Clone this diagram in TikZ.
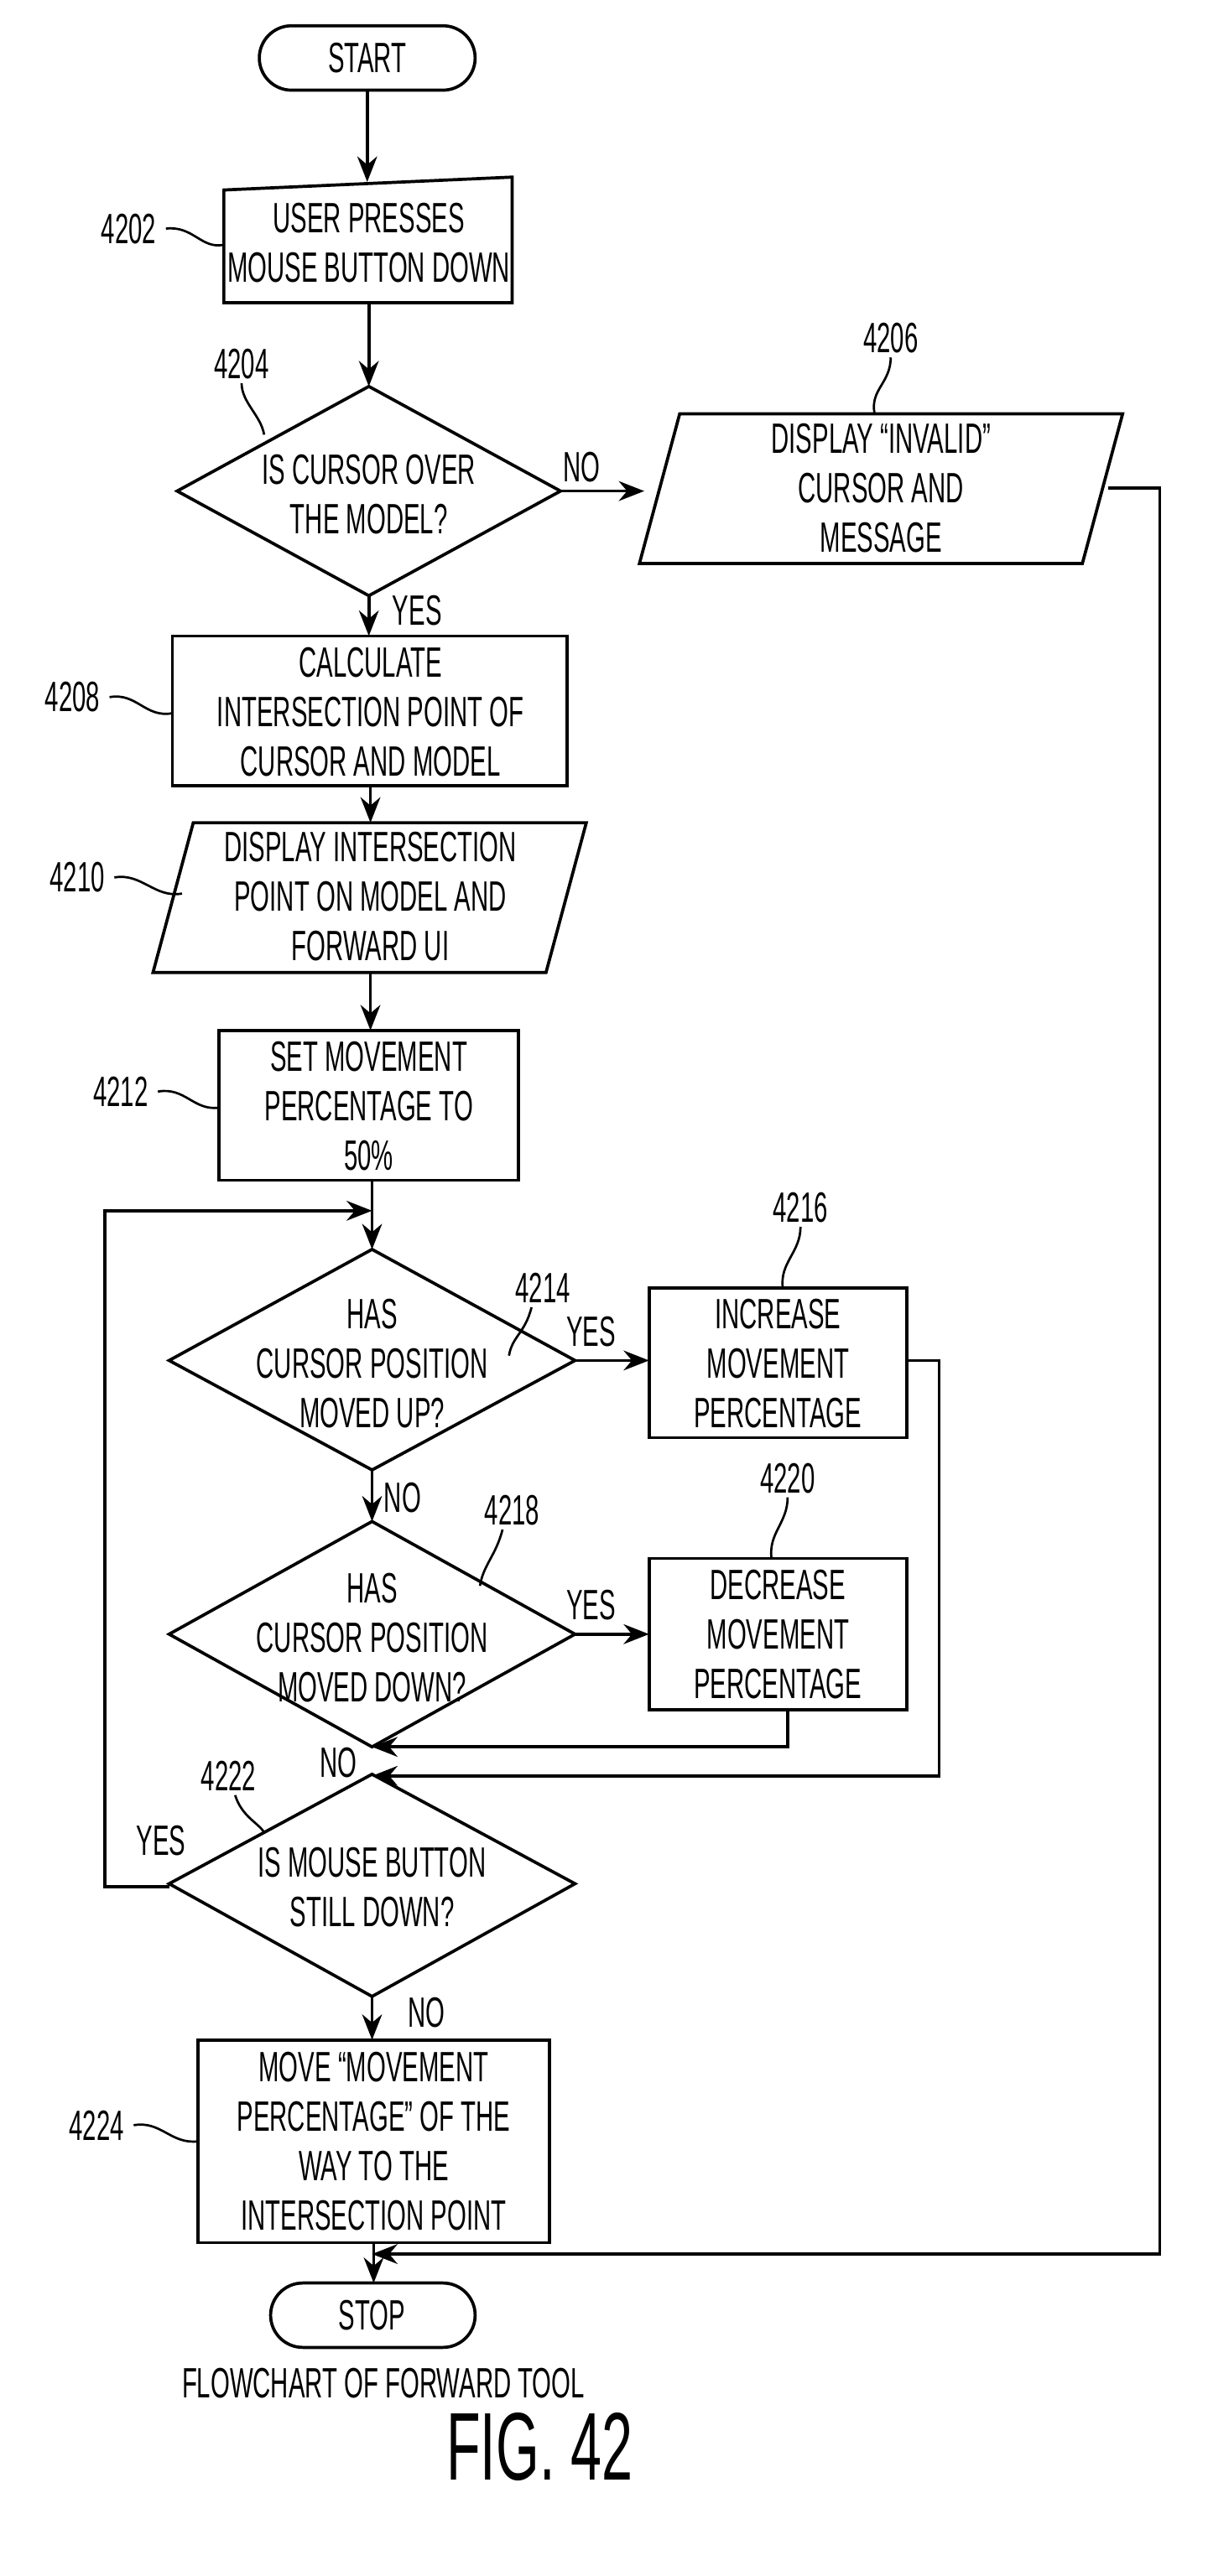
\documentclass[tikz,border=0pt]{standalone}
\usepackage{fontspec}
\setmainfont{Liberation Sans}[FakeStretch=0.58]
\usetikzlibrary{arrows.meta,shapes.geometric}
\begin{document}
\begin{tikzpicture}[x=0.02cm,y=-0.02cm,
 line width=1.1pt,
 txt/.style={align=center,font=\fontsize{15}{17.5}\selectfont},
 lab/.style={font=\fontsize{15}{17}\selectfont},
 arr/.style={-{Stealth[length=9pt,width=7pt]}},
 lead/.style={line width=0.8pt},
 stad/.style={rounded corners=0.4cm}]
\useasboundingbox (0,0) rectangle (750,1600);
% START
\draw[stad] (161,16) rectangle (295,56);
\node[txt] (start) at (228,36) {START};
% 4202
\draw (139,118) -- (318,110) -- (318,188) -- (139,188) -- cycle;
\node[txt] (b4202) at (229,151) {USER PRESSES\\MOUSE BUTTON DOWN};
\node[lab] (l4202) at (80,142) {4202};
\draw[lead] (103,142) .. controls (120,140) and (125,155) .. (139,152);
% 4204
\draw (229,240) -- (348,305) -- (229,370) -- (110,305) -- cycle;
\node[txt] (d4204) at (229,307) {IS CURSOR OVER\\THE MODEL?};
\node[lab] (l4204) at (150,226) {4204};
\draw[lead] (150,238) .. controls (150,250) and (162,258) .. (164,270);
% 4206
\draw (422,257) -- (697,257) -- (672,350) -- (397,350) -- cycle;
\node[txt] (b4206) at (547,303) {DISPLAY ``INVALID''\\CURSOR AND\\MESSAGE};
\node[lab] (l4206) at (553,210) {4206};
\draw[lead] (553,222) .. controls (553,238) and (540,242) .. (543,257);
\node[lab] at (361,290) {NO};
\node[lab] at (259,379) {YES};
% 4208
\draw (107,395) rectangle (352,488);
\node[txt] (b4208) at (230,442) {CALCULATE\\INTERSECTION POINT OF\\CURSOR AND MODEL};
\node[lab] (l4208) at (45,433) {4208};
\draw[lead] (68,433) .. controls (85,430) and (90,446) .. (107,443);
% 4210
\draw (120,511) -- (364,511) -- (339,604) -- (95,604) -- cycle;
\node[txt] (b4210) at (230,557) {DISPLAY INTERSECTION\\POINT ON MODEL AND\\FORWARD UI};
\node[lab] (l4210) at (48,545) {4210};
\draw[lead] (71,545) .. controls (88,542) and (96,558) .. (113,555);
% 4212
\draw (136,640) rectangle (322,733);
\node[txt] (b4212) at (229,687) {SET MOVEMENT\\PERCENTAGE TO\\50\%};
\node[lab] (l4212) at (75,678) {4212};
\draw[lead] (98,678) .. controls (115,675) and (120,690) .. (136,688);
% 4214
\draw (231,776) -- (357,845) -- (231,913) -- (105,845) -- cycle;
\node[txt] (d4214) at (231,847) {HAS\\CURSOR POSITION\\MOVED UP?};
\node[lab] (l4214) at (337,800) {4214};
\draw[lead] (330,812) .. controls (326,828) and (318,830) .. (316,842);
% 4216
\draw (403,800) rectangle (563,893);
\node[txt] (b4216) at (483,847) {INCREASE\\MOVEMENT\\PERCENTAGE};
\node[lab] (l4216) at (497,750) {4216};
\draw[lead] (497,762) .. controls (497,778) and (484,784) .. (486,800);
\node[lab] at (367,827) {YES};
\node[lab] at (250,930) {NO};
% 4218
\draw (231,945) -- (357,1015) -- (231,1085) -- (105,1015) -- cycle;
\node[txt] (d4218) at (231,1017) {HAS\\CURSOR POSITION\\MOVED DOWN?};
\node[lab] (l4218) at (318,938) {4218};
\draw[lead] (312,950) .. controls (308,966) and (300,972) .. (298,985);
% 4220
\draw (403,968) rectangle (563,1062);
\node[txt] (b4220) at (483,1015) {DECREASE\\MOVEMENT\\PERCENTAGE};
\node[lab] (l4220) at (489,918) {4220};
\draw[lead] (489,930) .. controls (489,946) and (477,952) .. (479,968);
\node[lab] at (367,997) {YES};
\node[lab] at (210,1095) {NO};
\node[lab] (l4222) at (142,1103) {4222};
\draw[lead] (146,1115) .. controls (150,1128) and (160,1132) .. (164,1138);
% 4222
\draw (231,1102) -- (357,1170) -- (231,1240) -- (105,1170) -- cycle;
\node[txt] (d4222) at (231,1172) {IS MOUSE BUTTON\\STILL DOWN?};
\node[lab] at (100,1143) {YES};
\node[lab] at (265,1250) {NO};
% 4224
\draw (123,1267) rectangle (341,1393);
\node[txt] (b4224) at (232,1330) {MOVE ``MOVEMENT\\PERCENTAGE'' OF THE\\WAY TO THE\\INTERSECTION POINT};
\node[lab] (l4224) at (60,1320) {4224};
\draw[lead] (83,1320) .. controls (100,1317) and (106,1332) .. (123,1330);
% STOP
\draw[stad] (168,1418) rectangle (295,1458);
\node[txt] (stop) at (231,1438) {STOP};
\node[lab] (cap) at (238,1480) {FLOWCHART OF FORWARD TOOL};
\node[font=\fontsize{34}{36}\selectfont] (fig) at (335,1520) {FIG. 42};
% connectors
\coordinate (j1) at (231,752);
\coordinate (j2) at (231,1085);
\coordinate (j3) at (231,1103);
\coordinate (j4) at (231,1400);
\draw[arr] (228,56) -- (228,113);
\draw[arr] (229,188) -- (229,240);
\draw[arr] (348,305) -- (400,305);
\draw[arr] (229,370) -- (229,395);
\draw[arr] (230,488) -- (230,511);
\draw[arr] (230,604) -- (230,640);
\draw[arr] (231,733) -- (231,776);
\draw[arr] (357,845) -- (403,845);
\draw[arr] (231,913) -- (231,945);
\draw[arr] (357,1015) -- (403,1015);
\draw[arr] (231,1240) -- (231,1267);
\draw[arr] (232,1393) -- (232,1418);
\draw[arr] (105,1172) -- (65,1172) -- (65,752) -- (j1);
\draw[arr] (563,845) -- (583,845) -- (583,1103) -- (j3);
\draw[arr] (489,1062) -- (489,1085) -- (j2);
\draw[arr] (688,303) -- (720,303) -- (720,1400) -- (j4);
\end{tikzpicture}
\end{document}
